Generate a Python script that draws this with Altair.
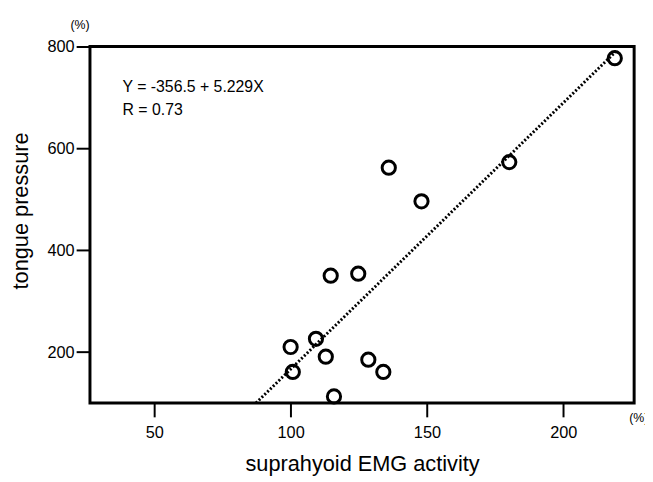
import altair as alt
import pandas as pd

# data
emg = [218.9, 180.2, 136.0, 148.0, 114.7, 124.8, 109.3, 100.0, 112.9, 128.5, 134.0, 100.8, 115.9]
pressure = [777, 573, 562, 496, 350, 354, 226, 210, 191, 185, 161, 161, 113]

# regression line  Y = -356.5 + 5.229X
intercept = -356.5
slope = 5.229
line_x = [87.3, 219.5]
line_y = [intercept + slope * v for v in line_x]

x_ticks = [50, 100, 150, 200]
y_ticks = [200, 400, 600, 800]
x_domain = [26.4, 226.0]
y_domain = [100, 800]

eq_lines = ["Y = -356.5 + 5.229X", "R = 0.73"]

FONT = "Liberation Sans"

pts = pd.DataFrame({"emg": emg, "pressure": pressure})
reg = pd.DataFrame({"emg": line_x, "pressure": line_y})

xs = alt.Scale(domain=x_domain, nice=False, zero=False)
ys = alt.Scale(domain=y_domain, nice=False, zero=False)

xax = alt.Axis(values=x_ticks, title="suprahyoid EMG activity", labelPadding=8,
               titlePadding=13)
yax = alt.Axis(values=y_ticks, title="tongue pressure", labelPadding=2,
               titleX=-58, titleY=166)

points = alt.Chart(pts).mark_point(
    shape="circle", filled=False, stroke="black", strokeWidth=3, size=180, opacity=1
).encode(
    x=alt.X("emg:Q", scale=xs, axis=xax),
    y=alt.Y("pressure:Q", scale=ys, axis=yax),
)

regline = alt.Chart(reg).mark_line(
    color="black", strokeWidth=3, strokeDash=[2, 2]
).encode(
    x=alt.X("emg:Q", scale=xs),
    y=alt.Y("pressure:Q", scale=ys),
)

eq1 = alt.Chart(pd.DataFrame({"t": [eq_lines[0]]})).mark_text(
    align="left", baseline="alphabetic", font=FONT, fontSize=16, color="black"
).encode(text="t:N", x=alt.value(33), y=alt.value(46.5))

eq2 = alt.Chart(pd.DataFrame({"t": [eq_lines[1]]})).mark_text(
    align="left", baseline="alphabetic", font=FONT, fontSize=16, color="black"
).encode(text="t:N", x=alt.value(33), y=alt.value(69))

pct_y = alt.Chart(pd.DataFrame({"t": ["(%)"]})).mark_text(
    align="center", baseline="middle", font=FONT, fontSize=12.5, color="black"
).encode(text="t:N", x=alt.value(-10), y=alt.value(-22))

pct_x = alt.Chart(pd.DataFrame({"t": ["(%)"]})).mark_text(
    align="left", baseline="middle", font=FONT, fontSize=12.5, color="black"
).encode(text="t:N", x=alt.value(546), y=alt.value(15.5 + 361))

chart = alt.layer(regline, points, eq1, eq2, pct_y, pct_x).properties(
    width=551, height=361,
    autosize=alt.AutoSizeParams(type="none"),
    padding={"left": 83, "top": 36, "right": 11, "bottom": 77},
    background="white",
).configure_view(
    stroke="black", strokeWidth=3
).configure_axis(
    grid=False, domain=False,
    tickColor="black", tickWidth=2, tickSize=14,
    labelFont=FONT, labelFontSize=16.5, labelColor="black",
    titleFont=FONT, titleFontSize=22, titleFontWeight="normal", titleColor="black",
)

chart.save("out.html", embed_options={"renderer": "svg", "actions": False})
